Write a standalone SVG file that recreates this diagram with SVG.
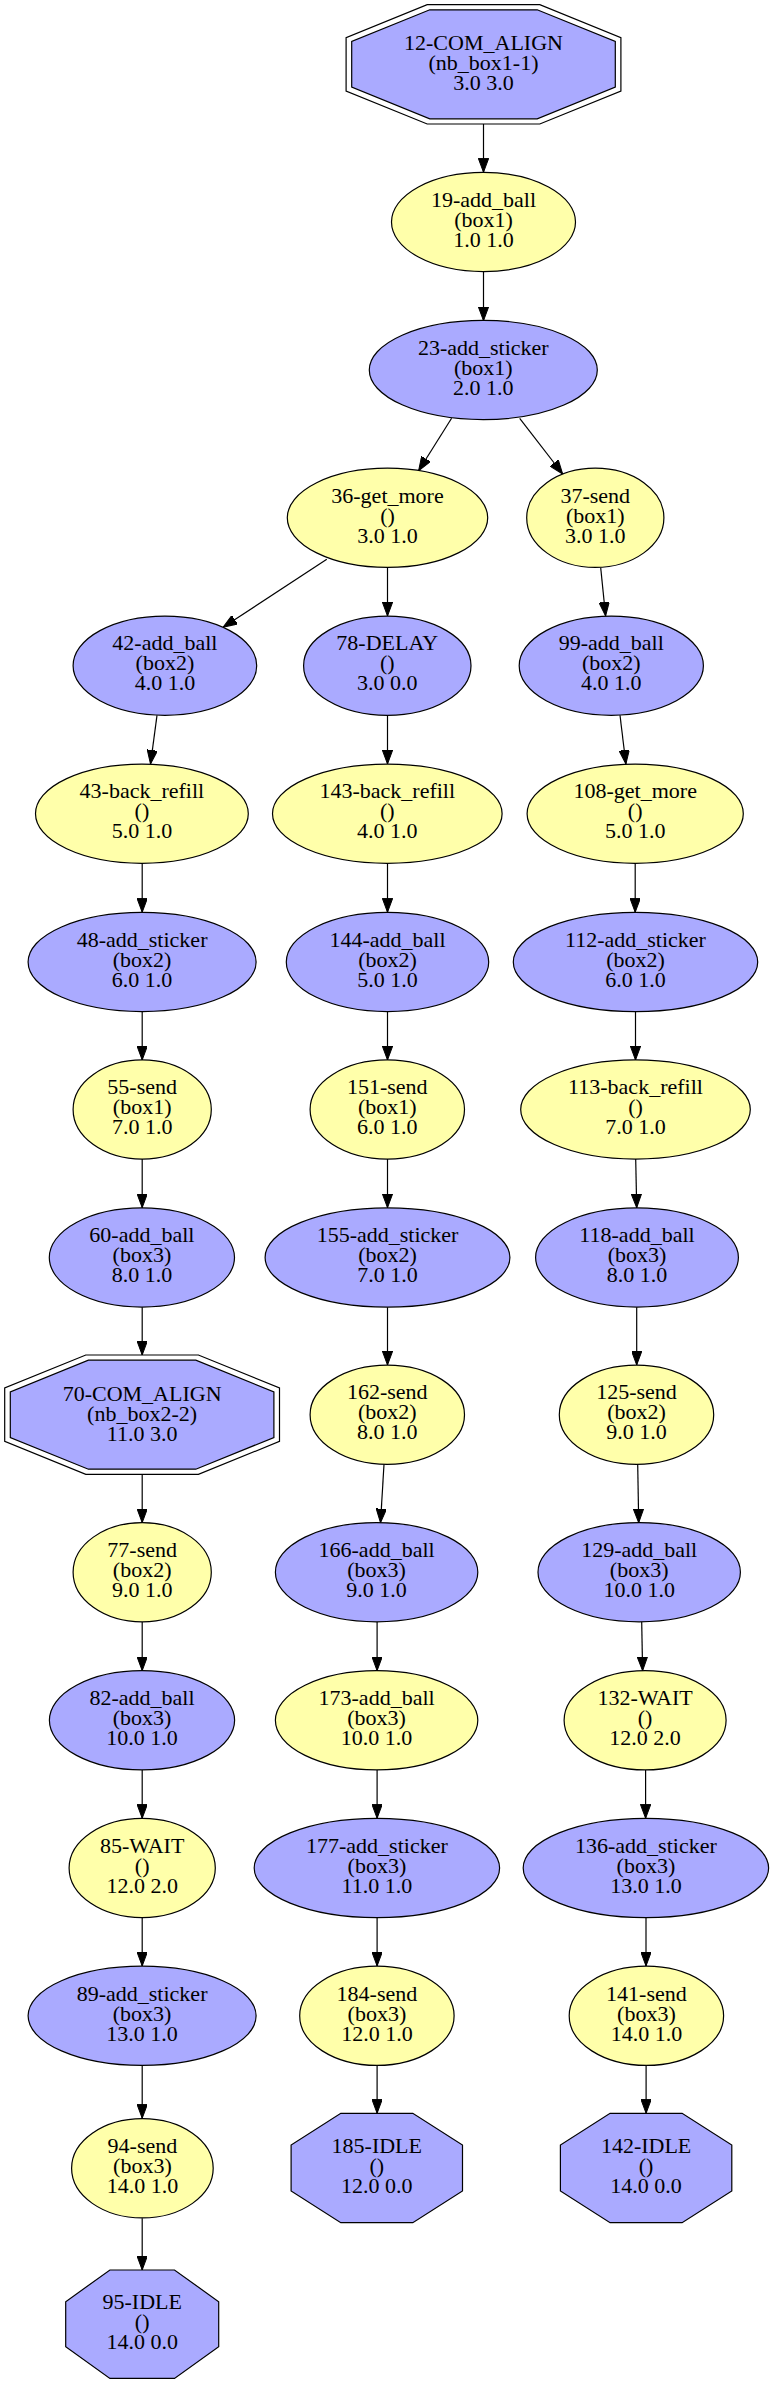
<svg xmlns="http://www.w3.org/2000/svg" width="774" height="2384" viewBox="0 0 774 2384">
<style>
.b{fill:#aaaaff;stroke:#000;stroke-width:1.2}
.y{fill:#ffffaa;stroke:#000;stroke-width:1.2}
.w{fill:none;stroke:#000;stroke-width:1.2}
text{font-family:"Liberation Serif","Times New Roman",serif;font-size:22px;text-anchor:middle;fill:#000}
.e path{fill:none;stroke:#000;stroke-width:1.2}
</style>
<defs>
<marker id="ah" markerUnits="userSpaceOnUse" viewBox="0 0 14 10.4" markerWidth="14" markerHeight="10.4" refX="14" refY="5.2" orient="auto">
<path d="M0,0 L14,5.2 L0,10.4 z" fill="#000" stroke="#000" stroke-width="1"/>
</marker>
</defs>
<rect width="774" height="2384" fill="#fff"/>
<g class="e" id="edges">
<path marker-end="url(#ah)" d="M483.5,124 L483.5,172.3"/>
<path marker-end="url(#ah)" d="M483.5,271.7 L483.5,320.7"/>
<path marker-end="url(#ah)" d="M451.6,418.3 L418.6,470.7"/>
<path marker-end="url(#ah)" d="M519.7,418.3 L562.7,474"/>
<path marker-end="url(#ah)" d="M326.8,559.3 L223.1,627.3"/>
<path marker-end="url(#ah)" d="M387.5,567.3 L387.5,616"/>
<path marker-end="url(#ah)" d="M600.7,567.7 L605.6,616"/>
<path marker-end="url(#ah)" d="M157,715.3 L150.5,764"/>
<path marker-end="url(#ah)" d="M387.5,715.3 L387.5,764"/>
<path marker-end="url(#ah)" d="M620,715.3 L625.9,764"/>
<path marker-end="url(#ah)" d="M142.2,863.3 L142.2,912.3"/>
<path marker-end="url(#ah)" d="M387.5,863.3 L387.5,912.3"/>
<path marker-end="url(#ah)" d="M635.2,863.3 L635.2,912.3"/>
<path marker-end="url(#ah)" d="M142.2,1011.7 L142.2,1060"/>
<path marker-end="url(#ah)" d="M387.5,1011.7 L387.5,1060"/>
<path marker-end="url(#ah)" d="M635.5,1011.7 L635.5,1060"/>
<path marker-end="url(#ah)" d="M142.2,1159 L142.2,1207.7"/>
<path marker-end="url(#ah)" d="M387.5,1159 L387.5,1207.7"/>
<path marker-end="url(#ah)" d="M635.7,1159 L636.7,1207.7"/>
<path marker-end="url(#ah)" d="M142.2,1307.3 L142.2,1355"/>
<path marker-end="url(#ah)" d="M387.5,1307.3 L387.5,1365"/>
<path marker-end="url(#ah)" d="M636.7,1307.3 L636.7,1365"/>
<path marker-end="url(#ah)" d="M142.2,1474.3 L142.2,1522.7"/>
<path marker-end="url(#ah)" d="M384,1464.3 L380.5,1522.7"/>
<path marker-end="url(#ah)" d="M637.7,1464.3 L638.7,1522.7"/>
<path marker-end="url(#ah)" d="M142.2,1621.7 L142.2,1670.7"/>
<path marker-end="url(#ah)" d="M377.1,1621.7 L377.1,1670.7"/>
<path marker-end="url(#ah)" d="M641.7,1621.7 L642.6,1670.7"/>
<path marker-end="url(#ah)" d="M142.2,1770 L142.2,1818.3"/>
<path marker-end="url(#ah)" d="M377.1,1770 L377.1,1818.3"/>
<path marker-end="url(#ah)" d="M645.6,1770 L645.6,1818.3"/>
<path marker-end="url(#ah)" d="M142.2,1917.7 L142.2,1966"/>
<path marker-end="url(#ah)" d="M377.1,1917.7 L377.1,1966"/>
<path marker-end="url(#ah)" d="M646,1917.7 L646,1966"/>
<path marker-end="url(#ah)" d="M142.2,2065.7 L142.2,2118.3"/>
<path marker-end="url(#ah)" d="M377.1,2066 L377.1,2113.3"/>
<path marker-end="url(#ah)" d="M646.1,2066 L646.1,2113.3"/>
<path marker-end="url(#ah)" d="M142.2,2218.3 L142.2,2270"/>
</g>
<g id="n12"><polygon class="w" points="427.2,4.6 539.8,4.6 620.9,37.6 620.9,91 539.8,124 427.2,124 346.1,91 346.1,37.6"/><polygon class="b" points="429.8,9.8 537.2,9.8 615.3,41.5 615.3,87.1 537.2,118.8 429.8,118.8 351.7,87.1 351.7,41.5"/><text x="483.5" y="50.3">12-COM_ALIGN<tspan x="483.5" dy="20">(nb_box1-1)</tspan><tspan x="483.5" dy="20">3.0 3.0</tspan></text></g>
<g id="n19"><ellipse class="y" cx="483.5" cy="222" rx="92" ry="49.6"/><text x="483.5" y="206.7">19-add_ball<tspan x="483.5" dy="20">(box1)</tspan><tspan x="483.5" dy="20">1.0 1.0</tspan></text></g>
<g id="n23"><ellipse class="b" cx="483.3" cy="370" rx="114" ry="49.6"/><text x="483.3" y="354.7">23-add_sticker<tspan x="483.3" dy="20">(box1)</tspan><tspan x="483.3" dy="20">2.0 1.0</tspan></text></g>
<g id="n36"><ellipse class="y" cx="387.5" cy="517.8" rx="100.2" ry="49.6"/><text x="387.5" y="502.5">36-get_more<tspan x="387.5" dy="20">()</tspan><tspan x="387.5" dy="20">3.0 1.0</tspan></text></g>
<g id="n37"><ellipse class="y" cx="595.3" cy="517.8" rx="68.6" ry="49.6"/><text x="595.3" y="502.5">37-send<tspan x="595.3" dy="20">(box1)</tspan><tspan x="595.3" dy="20">3.0 1.0</tspan></text></g>
<g id="n42"><ellipse class="b" cx="164.9" cy="665.7" rx="91.8" ry="49.6"/><text x="164.9" y="650.4">42-add_ball<tspan x="164.9" dy="20">(box2)</tspan><tspan x="164.9" dy="20">4.0 1.0</tspan></text></g>
<g id="n78"><ellipse class="b" cx="387.3" cy="665.7" rx="83.7" ry="49.6"/><text x="387.3" y="650.4">78-DELAY<tspan x="387.3" dy="20">()</tspan><tspan x="387.3" dy="20">3.0 0.0</tspan></text></g>
<g id="n99"><ellipse class="b" cx="611.3" cy="665.7" rx="92.1" ry="49.6"/><text x="611.3" y="650.4">99-add_ball<tspan x="611.3" dy="20">(box2)</tspan><tspan x="611.3" dy="20">4.0 1.0</tspan></text></g>
<g id="n43"><ellipse class="y" cx="141.9" cy="813.7" rx="106.4" ry="49.6"/><text x="141.9" y="798.4">43-back_refill<tspan x="141.9" dy="20">()</tspan><tspan x="141.9" dy="20">5.0 1.0</tspan></text></g>
<g id="n143"><ellipse class="y" cx="387.3" cy="813.7" rx="114.8" ry="49.6"/><text x="387.3" y="798.4">143-back_refill<tspan x="387.3" dy="20">()</tspan><tspan x="387.3" dy="20">4.0 1.0</tspan></text></g>
<g id="n108"><ellipse class="y" cx="635.2" cy="813.7" rx="108.1" ry="49.6"/><text x="635.2" y="798.4">108-get_more<tspan x="635.2" dy="20">()</tspan><tspan x="635.2" dy="20">5.0 1.0</tspan></text></g>
<g id="n48"><ellipse class="b" cx="142.1" cy="962" rx="114" ry="49.6"/><text x="142.1" y="946.7">48-add_sticker<tspan x="142.1" dy="20">(box2)</tspan><tspan x="142.1" dy="20">6.0 1.0</tspan></text></g>
<g id="n144"><ellipse class="b" cx="387.5" cy="962" rx="101.2" ry="49.6"/><text x="387.5" y="946.7">144-add_ball<tspan x="387.5" dy="20">(box2)</tspan><tspan x="387.5" dy="20">5.0 1.0</tspan></text></g>
<g id="n112"><ellipse class="b" cx="635.5" cy="962" rx="122.2" ry="49.6"/><text x="635.5" y="946.7">112-add_sticker<tspan x="635.5" dy="20">(box2)</tspan><tspan x="635.5" dy="20">6.0 1.0</tspan></text></g>
<g id="n55"><ellipse class="y" cx="142.2" cy="1109.5" rx="69.1" ry="49.6"/><text x="142.2" y="1094.2">55-send<tspan x="142.2" dy="20">(box1)</tspan><tspan x="142.2" dy="20">7.0 1.0</tspan></text></g>
<g id="n151"><ellipse class="y" cx="387.3" cy="1109.5" rx="77.2" ry="49.6"/><text x="387.3" y="1094.2">151-send<tspan x="387.3" dy="20">(box1)</tspan><tspan x="387.3" dy="20">6.0 1.0</tspan></text></g>
<g id="n113"><ellipse class="y" cx="635.5" cy="1109.5" rx="114.8" ry="49.6"/><text x="635.5" y="1094.2">113-back_refill<tspan x="635.5" dy="20">()</tspan><tspan x="635.5" dy="20">7.0 1.0</tspan></text></g>
<g id="n60"><ellipse class="b" cx="141.9" cy="1257.5" rx="92.6" ry="49.6"/><text x="141.9" y="1242.2">60-add_ball<tspan x="141.9" dy="20">(box3)</tspan><tspan x="141.9" dy="20">8.0 1.0</tspan></text></g>
<g id="n155"><ellipse class="b" cx="387.5" cy="1257.5" rx="122.4" ry="49.6"/><text x="387.5" y="1242.2">155-add_sticker<tspan x="387.5" dy="20">(box2)</tspan><tspan x="387.5" dy="20">7.0 1.0</tspan></text></g>
<g id="n118"><ellipse class="b" cx="637" cy="1257.5" rx="101.4" ry="49.6"/><text x="637" y="1242.2">118-add_ball<tspan x="637" dy="20">(box3)</tspan><tspan x="637" dy="20">8.0 1.0</tspan></text></g>
<g id="n70"><polygon class="w" points="85.8,1355 198.4,1355 279.5,1388 279.5,1441.4 198.4,1474.4 85.8,1474.4 4.7,1441.4 4.7,1388"/><polygon class="b" points="88.4,1360.2 195.8,1360.2 273.9,1391.9 273.9,1437.5 195.8,1469.2 88.4,1469.2 10.3,1437.5 10.3,1391.9"/><text x="142.1" y="1400.7">70-COM_ALIGN<tspan x="142.1" dy="20">(nb_box2-2)</tspan><tspan x="142.1" dy="20">11.0 3.0</tspan></text></g>
<g id="n162"><ellipse class="y" cx="387.3" cy="1414.7" rx="77.2" ry="49.6"/><text x="387.3" y="1399.4">162-send<tspan x="387.3" dy="20">(box2)</tspan><tspan x="387.3" dy="20">8.0 1.0</tspan></text></g>
<g id="n125"><ellipse class="y" cx="636.5" cy="1414.7" rx="77.2" ry="49.6"/><text x="636.5" y="1399.4">125-send<tspan x="636.5" dy="20">(box2)</tspan><tspan x="636.5" dy="20">9.0 1.0</tspan></text></g>
<g id="n77"><ellipse class="y" cx="142.2" cy="1572.2" rx="69.1" ry="49.6"/><text x="142.2" y="1556.9">77-send<tspan x="142.2" dy="20">(box2)</tspan><tspan x="142.2" dy="20">9.0 1.0</tspan></text></g>
<g id="n166"><ellipse class="b" cx="376.6" cy="1572.2" rx="101.2" ry="49.6"/><text x="376.6" y="1556.9">166-add_ball<tspan x="376.6" dy="20">(box3)</tspan><tspan x="376.6" dy="20">9.0 1.0</tspan></text></g>
<g id="n129"><ellipse class="b" cx="639.2" cy="1572.2" rx="101.2" ry="49.6"/><text x="639.2" y="1556.9">129-add_ball<tspan x="639.2" dy="20">(box3)</tspan><tspan x="639.2" dy="20">10.0 1.0</tspan></text></g>
<g id="n82"><ellipse class="b" cx="142" cy="1720.3" rx="92.6" ry="49.6"/><text x="142" y="1705">82-add_ball<tspan x="142" dy="20">(box3)</tspan><tspan x="142" dy="20">10.0 1.0</tspan></text></g>
<g id="n173"><ellipse class="y" cx="376.6" cy="1720.3" rx="101.2" ry="49.6"/><text x="376.6" y="1705">173-add_ball<tspan x="376.6" dy="20">(box3)</tspan><tspan x="376.6" dy="20">10.0 1.0</tspan></text></g>
<g id="n132"><ellipse class="y" cx="645.1" cy="1720.3" rx="81" ry="49.6"/><text x="645.1" y="1705">132-WAIT<tspan x="645.1" dy="20">()</tspan><tspan x="645.1" dy="20">12.0 2.0</tspan></text></g>
<g id="n85"><ellipse class="y" cx="142.2" cy="1868" rx="73.1" ry="49.6"/><text x="142.2" y="1852.7">85-WAIT<tspan x="142.2" dy="20">()</tspan><tspan x="142.2" dy="20">12.0 2.0</tspan></text></g>
<g id="n177"><ellipse class="b" cx="376.9" cy="1868" rx="122.7" ry="49.6"/><text x="376.9" y="1852.7">177-add_sticker<tspan x="376.9" dy="20">(box3)</tspan><tspan x="376.9" dy="20">11.0 1.0</tspan></text></g>
<g id="n136"><ellipse class="b" cx="645.9" cy="1868" rx="122.7" ry="49.6"/><text x="645.9" y="1852.7">136-add_sticker<tspan x="645.9" dy="20">(box3)</tspan><tspan x="645.9" dy="20">13.0 1.0</tspan></text></g>
<g id="n89"><ellipse class="b" cx="142.1" cy="2015.8" rx="114" ry="49.6"/><text x="142.1" y="2000.5">89-add_sticker<tspan x="142.1" dy="20">(box3)</tspan><tspan x="142.1" dy="20">13.0 1.0</tspan></text></g>
<g id="n184"><ellipse class="y" cx="376.9" cy="2015.8" rx="77.2" ry="49.6"/><text x="376.9" y="2000.5">184-send<tspan x="376.9" dy="20">(box3)</tspan><tspan x="376.9" dy="20">12.0 1.0</tspan></text></g>
<g id="n141"><ellipse class="y" cx="646.4" cy="2015.8" rx="77.2" ry="49.6"/><text x="646.4" y="2000.5">141-send<tspan x="646.4" dy="20">(box3)</tspan><tspan x="646.4" dy="20">14.0 1.0</tspan></text></g>
<g id="n94"><ellipse class="y" cx="142.4" cy="2168.3" rx="70.8" ry="49.6"/><text x="142.4" y="2153">94-send<tspan x="142.4" dy="20">(box3)</tspan><tspan x="142.4" dy="20">14.0 1.0</tspan></text></g>
<g id="n185"><polygon class="b" points="340.8,2113.3 412.8,2113.3 462.5,2145 462.5,2191 412.8,2222.7 340.8,2222.7 291.1,2191 291.1,2145"/><text x="376.8" y="2152.7">185-IDLE<tspan x="376.8" dy="20">()</tspan><tspan x="376.8" dy="20">12.0 0.0</tspan></text></g>
<g id="n142"><polygon class="b" points="610.1,2113.3 682.1,2113.3 731.8,2145 731.8,2191 682.1,2222.7 610.1,2222.7 560.4,2191 560.4,2145"/><text x="646.1" y="2152.7">142-IDLE<tspan x="646.1" dy="20">()</tspan><tspan x="646.1" dy="20">14.0 0.0</tspan></text></g>
<g id="n95"><polygon class="b" points="109.9,2270 174.5,2270 218.7,2301.7 218.7,2346.7 174.5,2378.4 109.9,2378.4 65.7,2346.7 65.7,2301.7"/><text x="142.2" y="2308.9">95-IDLE<tspan x="142.2" dy="20">()</tspan><tspan x="142.2" dy="20">14.0 0.0</tspan></text></g>
</svg>
